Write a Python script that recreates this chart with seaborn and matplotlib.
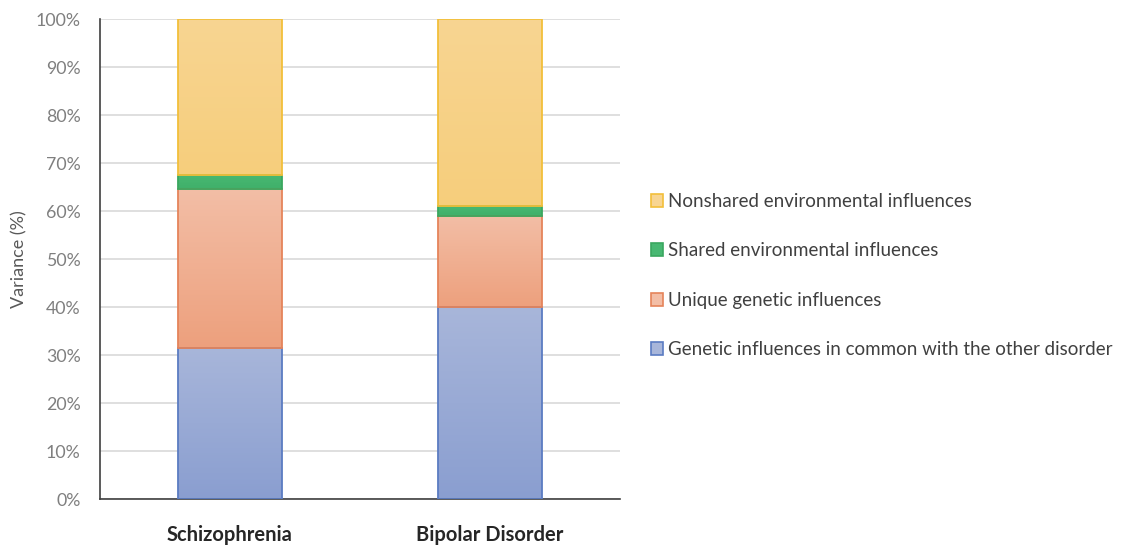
import numpy as np
import pandas as pd
import matplotlib
matplotlib.use("Agg")
import matplotlib.pyplot as plt
from matplotlib.colors import LinearSegmentedColormap
from matplotlib.patches import Patch
import seaborn as sns

# Variance decomposition (%) for each disorder
categories = ["Schizophrenia", "Bipolar Disorder"]
genetic_common = [31.5, 40.0]
genetic_unique = [33.0, 19.0]
shared_env = [3.0, 2.0]
nonshared_env = [32.5, 39.0]

series_names = [
    "Genetic influences in common with the other disorder",
    "Unique genetic influences",
    "Shared environmental influences",
    "Nonshared environmental influences",
]
series_values = [genetic_common, genetic_unique, shared_env, nonshared_env]
y_ticks = list(range(0, 101, 10))

# (top colour, bottom colour, edge colour) for each stack segment
styles = [
    ("#a8b6da", "#8a9ed0", "#5b7cc2"),
    ("#f3bea6", "#eda07d", "#e5845a"),
    ("#48b872", "#40b06a", "#3aa75f"),
    ("#f8d592", "#f6ce7c", "#f2bf3a"),
]

sns.set_theme(style="white")
plt.rcParams["font.family"] = ["Lato", "DejaVu Sans"]

fig = plt.figure(figsize=(11.22, 5.48), dpi=100)
ax = fig.add_axes([100 / 1122, 49 / 548, 520 / 1122, 480 / 548])

bottom = np.zeros(len(categories))
for name, vals, (c_top, c_bot, c_edge) in zip(series_names, series_values, styles):
    df = pd.DataFrame({"category": categories, "value": vals})
    sns.barplot(data=df, x="category", y="value", order=categories,
                bottom=bottom.copy(), width=0.4, color=c_top,
                edgecolor=c_edge, linewidth=1.3, saturation=1, ax=ax,
                zorder=3)
    cmap = LinearSegmentedColormap.from_list(name, [c_bot, c_top])
    for patch in ax.containers[-1]:
        x0, y0 = patch.get_x(), patch.get_y()
        w, h = patch.get_width(), patch.get_height()
        grad = np.linspace(0, 1, 256).reshape(-1, 1)
        img = ax.imshow(grad, cmap=cmap, origin="lower", aspect="auto",
                        extent=(x0, x0 + w, y0, y0 + h), zorder=2,
                        interpolation="bilinear")
        img.set_clip_path(patch)
        patch.set_facecolor("none")
    bottom = bottom + np.array(vals)

ax.set_xlim(-0.5, 1.5)
ax.set_ylim(0, 100)
ax.set_yticks(y_ticks)
ax.set_yticklabels([f"{t}%" for t in y_ticks], fontsize=12.8, color="#7f7f7f")
ax.yaxis.grid(True, color="#d9d9d9", linewidth=1.2, zorder=0)
ax.set_axisbelow(True)
ax.tick_params(axis="y", length=0, pad=14)
ax.tick_params(axis="x", length=0, pad=19)
for lbl in ax.get_xticklabels():
    lbl.set_fontweight("bold")
    lbl.set_fontsize(14.5)
    lbl.set_color("#262626")
ax.set_xlabel("")
ax.set_ylabel("Variance (%)", fontsize=13, color="#595959", labelpad=6)

for side in ["top", "right"]:
    ax.spines[side].set_visible(False)
ax.spines["left"].set_color("#404040")
ax.spines["left"].set_linewidth(1.2)
ax.spines["bottom"].set_color("#404040")
ax.spines["bottom"].set_linewidth(1.2)

handles = [Patch(facecolor=s[0], edgecolor=s[2], linewidth=1.2) for s in styles]
leg = fig.legend(handles[::-1], series_names[::-1], loc="center left",
                 bbox_to_anchor=(642 / 1122, 1 - 275.5 / 548), frameon=False,
                 fontsize=13.5, handlelength=0.6, handleheight=0.7,
                 handletextpad=0.3, labelspacing=1.72, borderpad=0)
for t in leg.get_texts():
    t.set_color("#404040")

fig.savefig("out.png", dpi=100)
